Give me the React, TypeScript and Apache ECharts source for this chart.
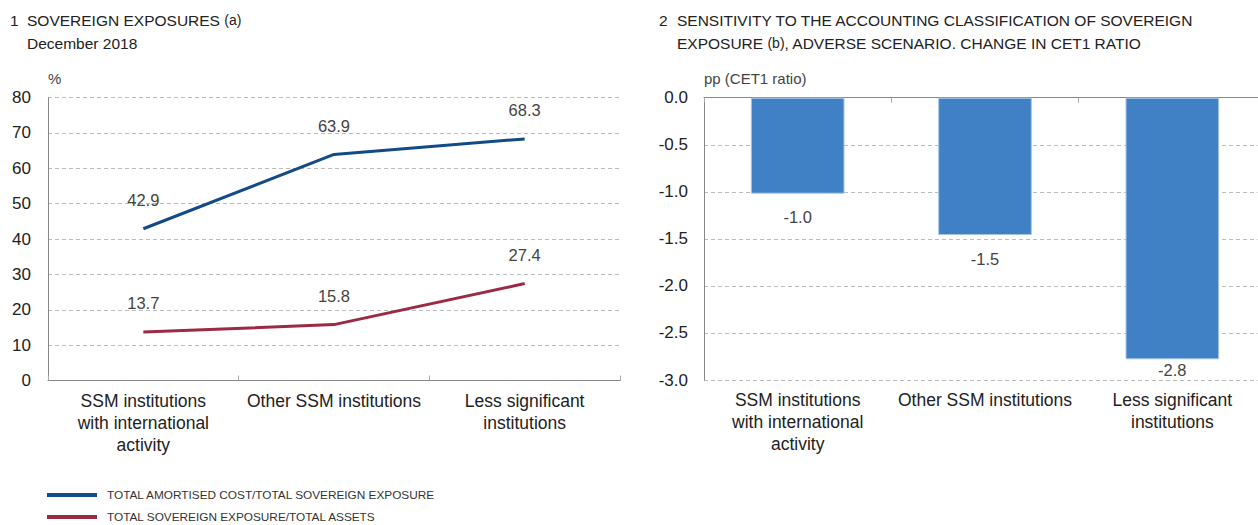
import React, { useEffect, useRef } from "react";
import * as echarts from "echarts";

const categories = [
  "SSM institutions\nwith international\nactivity",
  "Other SSM institutions",
  "Less significant\ninstitutions",
];
const amortisedCost = [42.9, 63.9, 68.3];
const exposureAssets = [13.7, 15.8, 27.4];
const cet1Change = [-1.02, -1.46, -2.78];
const barLabelGap = [15, 15, 2];
const seriesNames = [
  "TOTAL AMORTISED COST/TOTAL SOVEREIGN EXPOSURE",
  "TOTAL SOVEREIGN EXPOSURE/TOTAL ASSETS",
];

const FONT = "'Liberation Sans', Arial, Helvetica, sans-serif";
const TXT = "#222";

export default function App() {
  const ref = useRef<HTMLDivElement>(null);
  useEffect(() => {
    if (!ref.current) return;
    const chart = echarts.init(ref.current, null, { renderer: "svg" });
    const catLabel = {
      color: TXT,
      fontSize: 17.5,
      fontFamily: FONT,
      lineHeight: 22,
      margin: 9,
      interval: 0,
    };
    const lineLabel = {
      show: true,
      position: "top",
      distance: 20,
      color: "#444",
      fontSize: 16.5,
      formatter: (p: any) => p.value.toFixed(1),
    };
    const titleRich = {
      a: { fontSize: 15.5, fontFamily: FONT, color: TXT },
      b: { fontSize: 14, fontFamily: FONT, color: "#555" },
    };
    const txt = (x: number, y: number, text: string) => ({
      type: "text",
      x,
      y,
      style: {
        text,
        fill: TXT,
        verticalAlign: "middle",
        rich: titleRich,
      },
    });
    chart.setOption({
      animation: false,
      textStyle: { fontFamily: FONT },
      grid: [
        { left: 48, width: 572, top: 97.5, height: 283, outerBoundsMode: "none" },
        { left: 704, width: 562, top: 97.7, height: 282.3, outerBoundsMode: "none" },
      ],
      legend: {
        orient: "vertical",
        left: 47,
        top: 489,
        padding: 0,
        itemWidth: 50,
        itemHeight: 4,
        itemGap: 10,
        icon: "rect",
        data: seriesNames,
        textStyle: { fontSize: 11.8, color: "#333", fontFamily: FONT, padding: [0, 0, 0, 5] },
      },
      xAxis: [
        {
          type: "category",
          gridIndex: 0,
          data: categories,
          axisLine: { lineStyle: { color: "#888", width: 1 } },
          axisTick: { show: true, inside: true, length: 5, lineStyle: { color: "#aaa" } },
          axisLabel: catLabel,
        },
        {
          type: "category",
          gridIndex: 1,
          position: "top",
          data: categories,
          axisLine: { onZero: false, lineStyle: { color: "#888", width: 1 } },
          axisTick: { show: true, inside: true, length: 5, lineStyle: { color: "#aaa" } },
          axisLabel: { show: false },
        },
        {
          type: "category",
          gridIndex: 1,
          position: "bottom",
          data: categories,
          axisLine: { show: false, onZero: false },
          axisTick: { show: false },
          axisLabel: catLabel,
        },
      ],
      yAxis: [
        {
          type: "value",
          gridIndex: 0,
          min: 0,
          max: 80,
          interval: 10,
          name: "%",
          nameLocation: "end",
          nameGap: 12,
          nameTextStyle: { color: "#444", fontSize: 15, align: "left" },
          axisLine: { show: true, lineStyle: { color: "#888" } },
          axisTick: { show: false },
          axisLabel: { color: TXT, fontSize: 17, margin: 17 },
          splitLine: { lineStyle: { color: "#bbb", type: [4, 3] } },
        },
        {
          type: "value",
          gridIndex: 1,
          min: -3,
          max: 0,
          interval: 0.5,
          name: "pp (CET1 ratio)",
          nameLocation: "end",
          nameGap: 12,
          nameTextStyle: { color: "#444", fontSize: 15, align: "left" },
          axisLine: { show: true, lineStyle: { color: "#888" } },
          axisTick: { show: false },
          axisLabel: {
            color: TXT,
            fontSize: 17,
            margin: 16,
            formatter: (v: number) => v.toFixed(1),
          },
          splitLine: { lineStyle: { color: "#bbb", type: [4, 3] } },
        },
      ],
      series: [
        {
          name: seriesNames[0],
          type: "line",
          xAxisIndex: 0,
          yAxisIndex: 0,
          data: amortisedCost,
          showSymbol: true,
          symbol: "circle",
          symbolSize: 0.1,
          lineStyle: { color: "#124b87", width: 3 },
          itemStyle: { color: "#124b87" },
          label: lineLabel,
        },
        {
          name: seriesNames[1],
          type: "line",
          xAxisIndex: 0,
          yAxisIndex: 0,
          data: exposureAssets,
          showSymbol: true,
          symbol: "circle",
          symbolSize: 0.1,
          lineStyle: { color: "#9c2a44", width: 3 },
          itemStyle: { color: "#9c2a44" },
          label: lineLabel,
        },
        {
          type: "bar",
          xAxisIndex: 1,
          yAxisIndex: 1,
          data: cet1Change.map((v, i) => ({ value: v, label: { distance: barLabelGap[i] } })),
          barWidth: "50%",
          itemStyle: { color: "#4080c4", borderColor: "#a9c6e6", borderWidth: 1 },
          label: {
            show: true,
            position: "bottom",
            color: "#444",
            fontSize: 16.5,
            formatter: (p: any) => p.value.toFixed(1),
          },
        },
      ],
      graphic: [
        txt(10, 20, "{a|1}"),
        txt(27, 20, "{a|SOVEREIGN EXPOSURES }{b|(a)}"),
        txt(27, 43, "{a|December 2018}"),
        txt(659, 20, "{a|2}"),
        txt(677, 20, "{a|SENSITIVITY TO THE ACCOUNTING CLASSIFICATION OF SOVEREIGN}"),
        txt(677, 43, "{a|EXPOSURE }{b|(b)}{a|, ADVERSE SCENARIO. CHANGE IN CET1 RATIO}"),
      ],
    });
    return () => chart.dispose();
  }, []);
  return (
    <div
      ref={ref}
      style={{ position: "absolute", left: 0, top: 0, width: 1258, height: 525 }}
    />
  );
}
